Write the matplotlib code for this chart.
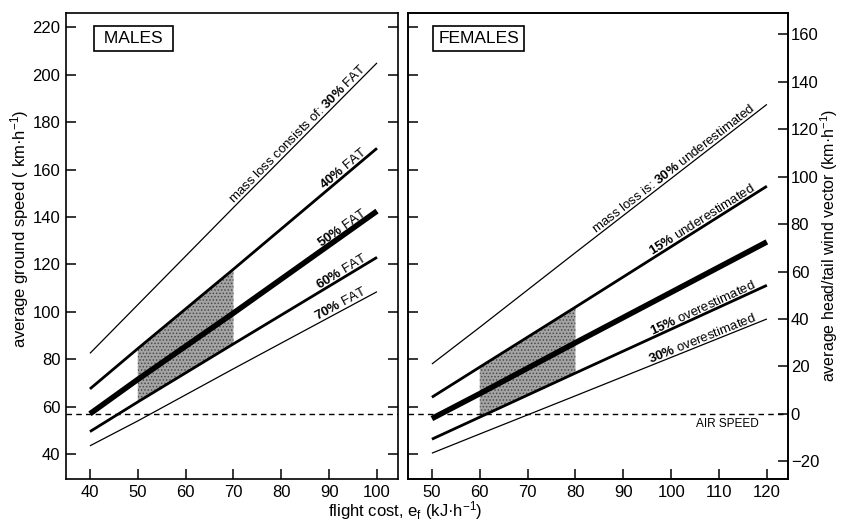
import numpy as np
import matplotlib
matplotlib.use("Agg")
import matplotlib.pyplot as plt

plt.rcParams['font.family'] = ['Liberation Sans', 'DejaVu Sans']
plt.rcParams['mathtext.fontset'] = 'custom'
plt.rcParams['mathtext.rm'] = 'Liberation Sans'
plt.rcParams['mathtext.it'] = 'Liberation Sans:italic'
plt.rcParams['mathtext.bf'] = 'Liberation Sans:bold'
plt.rcParams['hatch.linewidth'] = 0.7

# ---------------- data ----------------
air_speed = 57.0

male_x = [40, 50, 70, 100]
male_fat30 = [82.5, 103, 144, 205]
male_fat40 = [67.5, 84.5, 118, 169]
male_fat50 = [57, 71.5, 99.5, 142.5]
male_fat60 = [49.5, 62, 86.5, 123]
male_fat70 = [43.5, 54, 76, 108.5]
male_shade_x = [50, 70]

fem_x = [50, 60, 80, 120]
fem_under30 = [78, 93.5, 125, 187.5]
fem_under15 = [64, 76.7, 102, 153]
fem_est = [55, 65.5, 87, 129.5]
fem_over15 = [46.3, 55.6, 74.2, 111.2]
fem_over30 = [40.4, 48.5, 64.6, 97]
fem_shade_x = [60, 80]

male_xticks = [40, 50, 60, 70, 80, 90, 100]
fem_xticks = [50, 60, 70, 80, 90, 100, 110, 120]
ground_ticks = [40, 60, 80, 100, 120, 140, 160, 180, 200, 220]
wind_ticks = [-20, 0, 20, 40, 60, 80, 100, 120, 140, 160]

male_labels = ["mass loss consists of: $\\mathbf{30\\%}$ FAT", "$\\mathbf{40\\%}$ FAT",
               "$\\mathbf{50\\%}$ FAT", "$\\mathbf{60\\%}$ FAT", "$\\mathbf{70\\%}$ FAT"]
fem_labels = ["mass loss is: $\\mathbf{30\\%}$ underestimated", "$\\mathbf{15\\%}$ underestimated",
              None, "$\\mathbf{15\\%}$ overestimated", "$\\mathbf{30\\%}$ overestimated"]

# ---------------- figure ----------------
fig = plt.figure(figsize=(8.41, 5.2), dpi=100)
ax1 = fig.add_axes([0.0785, 0.0788, 0.3948, 0.896])
ax2 = fig.add_axes([0.4851, 0.0788, 0.4518, 0.896])
ylim = (29.5, 226)
ax1.set_xlim(35, 104.4)
ax2.set_xlim(45, 124.4)
ax1.set_ylim(*ylim)
ax2.set_ylim(*ylim)
ax3 = ax2.twinx()
ax3.set_ylim(ylim[0] - air_speed, ylim[1] - air_speed)

widths = [0.9, 2.0, 4.0, 2.0, 0.9]

for ax in (ax1, ax2, ax3):
    for s in ax.spines.values():
        s.set_linewidth(1.2)

ax1.set_xticks(male_xticks)
ax2.set_xticks(fem_xticks)
ax1.set_yticks(ground_ticks)
ax2.set_yticks(ground_ticks)
ax3.set_yticks(wind_ticks)
ax1.tick_params(direction='in', length=7, width=1.1, right=True, labelsize=12, pad=4)
ax2.tick_params(direction='in', length=7, width=1.1, left=True, right=False,
                labelleft=False, labelsize=12, pad=4)
ax3.tick_params(direction='in', length=7, width=1.1, labelsize=12, pad=2)

male_series = [male_fat30, male_fat40, male_fat50, male_fat60, male_fat70]
fem_series = [fem_under30, fem_under15, fem_est, fem_over15, fem_over30]

for ys, lw in zip(male_series, widths):
    ax1.plot(male_x, ys, color='black', lw=lw, solid_capstyle='butt', zorder=3)
for ys, lw in zip(fem_series, widths):
    ax2.plot(fem_x, ys, color='black', lw=lw, solid_capstyle='butt', zorder=3)

# shaded ranges
ax1.fill_between(male_shade_x, [male_fat60[1], male_fat60[2]], [male_fat40[1], male_fat40[2]],
                 facecolor='#a4a4a4', edgecolor='#4a4a4a', hatch='.....', linewidth=0, zorder=2)
ax2.fill_between(fem_shade_x, [fem_over15[1], fem_over15[2]], [fem_under15[1], fem_under15[2]],
                 facecolor='#a4a4a4', edgecolor='#4a4a4a', hatch='.....', linewidth=0, zorder=2)

# air speed line
for ax in (ax1, ax2):
    ax.axhline(air_speed, color='black', lw=1.0, ls=(0, (4, 3)), zorder=2)
ax2.text(118.2, 52.6, "AIR SPEED", ha='right', va='center', fontsize=8.5)

def label_line(ax, xs, ys, text, xend, size=9.5, off=2.0):
    xs = np.asarray(xs, float)
    ys = np.asarray(ys, float)
    y0 = np.interp(xend, xs, ys)
    p0 = ax.transData.transform((xs[0], ys[0]))
    p1 = ax.transData.transform((xs[-1], ys[-1]))
    ang = np.degrees(np.arctan2(p1[1] - p0[1], p1[0] - p0[0]))
    a = np.radians(ang)
    dx, dy = -np.sin(a) * off, np.cos(a) * off
    ax.annotate(text, xy=(xend, y0), xytext=(dx, dy), textcoords='offset points',
                rotation=ang, rotation_mode='anchor', ha='right', va='baseline',
                fontsize=size, zorder=4)

for ys, t in zip(male_series, male_labels):
    label_line(ax1, male_x, ys, t, 98.3)
for ys, t in zip(fem_series, fem_labels):
    if t:
        label_line(ax2, fem_x, ys, t, 118.0)

box = dict(boxstyle='square,pad=0.3', facecolor='white', edgecolor='black', linewidth=1.2)
ax1.text(0.202, 0.945, " MALES ", transform=ax1.transAxes, ha='center', va='center',
         fontsize=12.5, bbox=box)
ax2.text(0.186, 0.945, "FEMALES", transform=ax2.transAxes, ha='center', va='center',
         fontsize=12.5, bbox=box)

fig.text(0.023, 0.56, "average ground speed ( km·h$^{-1}$)", rotation=90,
         ha='center', va='center', fontsize=12)
fig.text(0.986, 0.529, "average head/tail wind vector (km·h$^{-1}$)", rotation=90,
         ha='center', va='center', fontsize=11.5)
fig.text(0.4816, 0.019, "flight cost, e$_\\mathrm{f}$ (kJ·h$^{-1}$)", ha='center',
         va='center', fontsize=12)

fig.savefig("out.png", dpi=100)
